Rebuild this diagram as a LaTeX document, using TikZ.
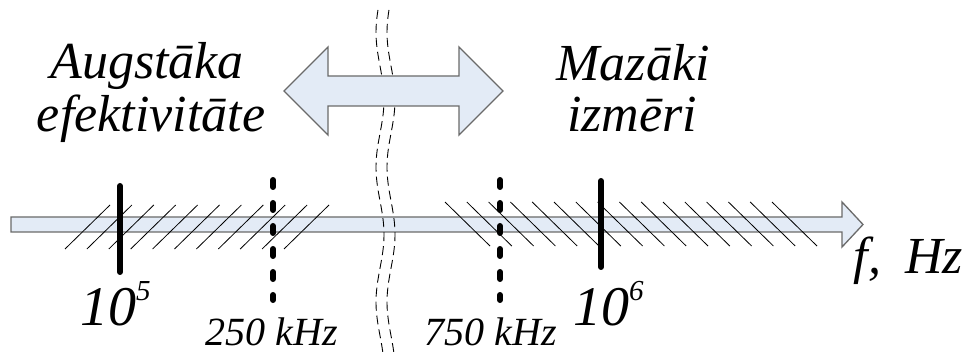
\documentclass[tikz,border=0pt]{standalone}
\usepackage{fontspec}
\setmainfont{Liberation Serif}
\usetikzlibrary{positioning}
\definecolor{axisfill}{HTML}{E3EBF6}
\definecolor{axisline}{HTML}{6A6A6A}
\tikzset{
  % bultas un ass
  blockarrow/.style={fill=axisfill,draw=axisline,line width=1.3pt,line join=miter},
  hatch/.style={draw=black,line width=0.8pt},
  brk/.style={draw=black,line width=0.9pt,dash pattern=on 9pt off 5pt},
  tickfull/.style={draw=black,line width=6pt,line cap=round},
  tickdash/.style={draw=black,line width=6pt,line cap=round,dash pattern=on 7pt off 16pt},
  % teksti
  bigtxt/.style={font=\fontsize{52}{54}\selectfont\itshape,inner sep=0pt,anchor=base},
  numtxt/.style={font=\fontsize{56}{58}\selectfont\itshape,inner sep=0pt,anchor=base west},
  midtxt/.style={font=\fontsize{40}{44}\selectfont\itshape,inner sep=0pt,anchor=base},
}
\newcommand{\supnum}[1]{\raisebox{25pt}{\fontsize{29}{29}\selectfont #1}}

\begin{document}
\begin{tikzpicture}[x=1pt,y=-1pt]
  \useasboundingbox (0,0) rectangle (965,352);
  % frekvences ass
  \draw[blockarrow] (11,217) -- (842,217) -- (842,202) -- (863,224.5)
    -- (842,247) -- (842,232) -- (11,232) -- cycle;
  \foreach \k in {0,...,10} \draw[hatch] ({65+21.9*\k},249) -- ++(45,-44);
  \foreach \k in {0,...,15} \draw[hatch] ({445+21.8*\k},202) -- ++(45,44);
  % partraukums
  \draw[brk] plot[domain=10:352,samples=80] ({380+4*sin((\x-66)*2.67)},\x);
  \draw[brk] plot[domain=10:352,samples=80] ({391+4*sin((\x-66)*2.67)},\x);
  % atzimes
  \draw[tickfull] (120,186) -- (120,272);
  \draw[tickfull] (601,181) -- (601,267);
  \draw[tickdash] (273,180) -- (273,300);
  \draw[tickdash] (500,180) -- (500,300);
  % divvirzienu bulta
  \draw[blockarrow] (284,91) -- (328,47) -- (328,76) -- (459,76) -- (459,47)
    -- (503,91) -- (459,135) -- (459,106) -- (328,106) -- (328,135) -- cycle;
  \node[bigtxt] (effA) at (147,79) {Augstāka};
  \node[bigtxt] (effB) at (151,132) {efektivitāte};
  \node[bigtxt] (sizeA) at (633,81) {Mazāki};
  \node[bigtxt] (sizeB) at (632,132) {izmēri};
  \node[numtxt] (lo) at (80,325) {10\supnum{5}};
  \node[numtxt] (hi) at (573,325) {10\supnum{6}};
  \node[midtxt] (fa) at (272,345) {250 kHz};
  \node[midtxt] (fb) at (491,345) {750 kHz};
  \node[bigtxt,anchor=base east] (unit) at (963,273) {f,\hspace{24pt}Hz};
\end{tikzpicture}
\end{document}
